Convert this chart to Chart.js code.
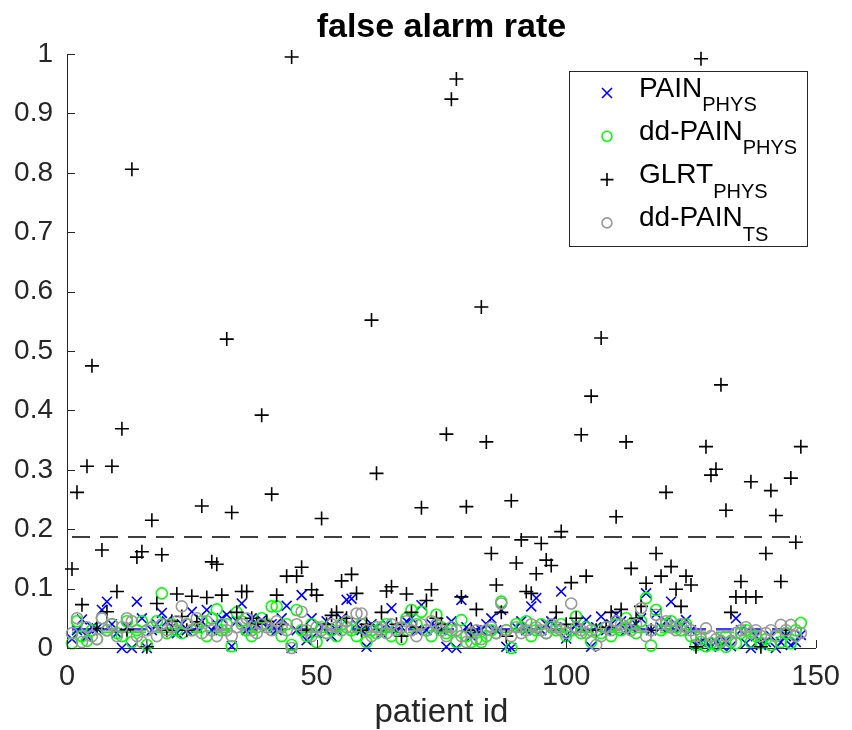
<!DOCTYPE html>
<html>
<head>
<meta charset="utf-8">
<title>false alarm rate</title>
<script src="https://cdn.jsdelivr.net/npm/chart.js@4"></script>
<style>
  html, body { margin: 0; padding: 0; background: #fff; }
</style>
</head>
<body>
<canvas id="chart" width="852" height="730"></canvas>
<script>
// 每位病人的假警報率 (patient id 1..147)
const painPhys = [
  0.015, 0.030, 0.048, 0.020, 0.035, 0.033, 0.064, 0.078, 0.040, 0.025,
  0.000, 0.035, 0.000, 0.078, 0.050, 0.000, 0.030, 0.040, 0.059, 0.045,
  0.035, 0.025, 0.040, 0.030, 0.061, 0.035, 0.045, 0.064, 0.030, 0.040,
  0.050, 0.056, 0.003, 0.045, 0.075, 0.030, 0.050, 0.040, 0.047, 0.035,
  0.040, 0.030, 0.050, 0.071, 0.000, 0.030, 0.089, 0.013, 0.050, 0.025,
  0.035, 0.045, 0.020, 0.030, 0.050, 0.081, 0.083, 0.040, 0.030, 0.002,
  0.040, 0.035, 0.025, 0.040, 0.067, 0.030, 0.035, 0.045, 0.050, 0.030,
  0.072, 0.030, 0.040, 0.035, 0.030, 0.002, 0.045, 0.000, 0.081, 0.035,
  0.020, 0.030, 0.030, 0.040, 0.050, 0.030, 0.064, 0.002, 0.000, 0.035,
  0.045, 0.030, 0.070, 0.084, 0.030, 0.040, 0.045, 0.035, 0.095, 0.016,
  0.030, 0.040, 0.035, 0.047, 0.002, 0.035, 0.053, 0.030, 0.040, 0.056,
  0.045, 0.030, 0.035, 0.040, 0.050, 0.092, 0.030, 0.058, 0.035, 0.045,
  0.078, 0.040, 0.035, 0.047, 0.030, 0.005, 0.010, 0.008, 0.002, 0.010,
  0.005, 0.012, 0.003, 0.050, 0.030, 0.008, 0.000, 0.020, 0.005, 0.010,
  0.020, 0.000, 0.010, 0.020, 0.005, 0.010, 0.022
];

const ddPainPhys = [
  0.008, 0.045, 0.020, 0.012, 0.030, 0.015, 0.050, 0.030, 0.040, 0.025,
  0.020, 0.045, 0.010, 0.030, 0.045, 0.005, 0.035, 0.045, 0.092, 0.025,
  0.040, 0.030, 0.025, 0.040, 0.030, 0.035, 0.045, 0.020, 0.050, 0.065,
  0.030, 0.040, 0.003, 0.060, 0.045, 0.030, 0.020, 0.035, 0.050, 0.040,
  0.070, 0.070, 0.020, 0.040, 0.005, 0.064, 0.030, 0.020, 0.040, 0.010,
  0.035, 0.025, 0.030, 0.020, 0.040, 0.035, 0.030, 0.020, 0.040, 0.010,
  0.030, 0.025, 0.035, 0.040, 0.020, 0.030, 0.015, 0.050, 0.064, 0.040,
  0.061, 0.030, 0.020, 0.056, 0.035, 0.025, 0.030, 0.010, 0.047, 0.020,
  0.010, 0.015, 0.010, 0.020, 0.030, 0.025, 0.078, 0.030, 0.000, 0.040,
  0.035, 0.045, 0.020, 0.030, 0.040, 0.025, 0.035, 0.030, 0.040, 0.020,
  0.030, 0.053, 0.025, 0.035, 0.010, 0.030, 0.025, 0.035, 0.020, 0.040,
  0.030, 0.050, 0.040, 0.025, 0.045, 0.084, 0.004, 0.064, 0.030, 0.040,
  0.045, 0.035, 0.030, 0.040, 0.020, 0.005, 0.010, 0.003, 0.008, 0.005,
  0.012, 0.002, 0.010, 0.008, 0.025, 0.030, 0.010, 0.020, 0.008, 0.015,
  0.005, 0.020, 0.010, 0.025, 0.008, 0.030, 0.042
];

const glrtPhys = [
  0.133, 0.262, 0.073, 0.306, 0.475, 0.033, 0.165, 0.061, 0.306, 0.095,
  0.369, 0.031, 0.806, 0.153, 0.162, 0.002, 0.215, 0.075, 0.157, 0.030,
  0.045, 0.091, 0.053, 0.030, 0.087, 0.044, 0.239, 0.085, 0.145, 0.141,
  0.089, 0.520, 0.228, 0.060, 0.095, 0.095, 0.050, 0.040, 0.392, 0.045,
  0.259, 0.089, 0.040, 0.121, 0.995, 0.121, 0.136, 0.030, 0.098, 0.089,
  0.218, 0.040, 0.055, 0.060, 0.113, 0.050, 0.124, 0.092, 0.030, 0.040,
  0.552, 0.294, 0.060, 0.096, 0.103, 0.040, 0.020, 0.091, 0.060, 0.035,
  0.236, 0.080, 0.098, 0.050, 0.040, 0.360, 0.924, 0.958, 0.086, 0.238,
  0.030, 0.065, 0.574, 0.347, 0.159, 0.106, 0.060, 0.020, 0.248, 0.143,
  0.182, 0.095, 0.092, 0.125, 0.176, 0.148, 0.139, 0.060, 0.196, 0.040,
  0.110, 0.050, 0.359, 0.121, 0.424, 0.030, 0.522, 0.035, 0.060, 0.221,
  0.065, 0.347, 0.134, 0.050, 0.070, 0.109, 0.030, 0.159, 0.121, 0.262,
  0.137, 0.099, 0.070, 0.121, 0.106, 0.002, 0.992, 0.339, 0.291, 0.301,
  0.443, 0.232, 0.060, 0.086, 0.112, 0.086, 0.280, 0.086, 0.002, 0.159,
  0.265, 0.223, 0.112, 0.030, 0.286, 0.178, 0.339
];

const ddPainTs = [
  0.025, 0.050, 0.010, 0.035, 0.020, 0.015, 0.050, 0.030, 0.040, 0.020,
  0.035, 0.050, 0.045, 0.020, 0.010, 0.030, 0.035, 0.020, 0.040, 0.030,
  0.035, 0.045, 0.070, 0.040, 0.030, 0.050, 0.025, 0.045, 0.030, 0.020,
  0.040, 0.030, 0.020, 0.035, 0.040, 0.050, 0.030, 0.025, 0.040, 0.035,
  0.030, 0.045, 0.035, 0.030, 0.000, 0.040, 0.061, 0.030, 0.020, 0.035,
  0.030, 0.025, 0.040, 0.035, 0.030, 0.045, 0.035, 0.058, 0.058, 0.030,
  0.020, 0.035, 0.030, 0.025, 0.040, 0.030, 0.035, 0.045, 0.030, 0.020,
  0.040, 0.030, 0.045, 0.040, 0.030, 0.020, 0.035, 0.030, 0.020, 0.010,
  0.025, 0.030, 0.015, 0.030, 0.035, 0.025, 0.075, 0.030, 0.020, 0.035,
  0.025, 0.030, 0.040, 0.035, 0.030, 0.025, 0.040, 0.035, 0.030, 0.025,
  0.075, 0.035, 0.030, 0.025, 0.030, 0.005, 0.020, 0.035, 0.030, 0.045,
  0.040, 0.035, 0.030, 0.040, 0.067, 0.020, 0.030, 0.056, 0.040, 0.045,
  0.035, 0.030, 0.040, 0.035, 0.030, 0.020, 0.015, 0.033, 0.020, 0.015,
  0.010, 0.020, 0.012, 0.025, 0.030, 0.035, 0.025, 0.030, 0.020, 0.025,
  0.030, 0.020, 0.039, 0.030, 0.039, 0.020, 0.025
];

// 各方法的平均值 (虛線)
const meanPain = 0.032;
const meanDdPain = 0.026;
const meanGlrt = 0.187;
const meanTs = 0.029;

const xTicks = [0, 50, 100, 150];
const yTicks = [0, 0.1, 0.2, 0.3, 0.4, 0.5, 0.6, 0.7, 0.8, 0.9, 1];

const FONT = "'Liberation Sans', Arial, Helvetica, sans-serif";
const AXIS_COLOR = '#262626';
const GREEN = '#00ff00';

const patientIds = painPhys.map((_, i) => i + 1);
const firstId = patientIds[0];
const lastId = patientIds[patientIds.length - 1];

function toPoints(values) {
    return values.map((v, i) => ({ x: patientIds[i], y: v }));
}

function scatterSet(label, values, style, color, radius, order) {
    return {
        label: label,
        type: 'scatter',
        data: toPoints(values),
        pointStyle: style,
        pointRadius: radius,
        pointBorderColor: color,
        pointBackgroundColor: 'rgba(0,0,0,0)',
        pointBorderWidth: 1.6,
        showLine: false,
        clip: false,
        order: order
    };
}

function meanLine(value, color, order) {
    return {
        type: 'line',
        data: [{ x: firstId, y: value }, { x: lastId, y: value }],
        borderColor: color,
        borderWidth: 1.5,
        borderDash: [18, 10],
        pointRadius: 0,
        fill: false,
        order: order
    };
}

// 圖例 (含下標)
const legendItems = [
    { name: 'PAIN', sub: 'PHYS', style: 'crossRot', color: '#0000ff' },
    { name: 'dd-PAIN', sub: 'PHYS', style: 'circle', color: GREEN },
    { name: 'GLRT', sub: 'PHYS', style: 'cross', color: '#000000' },
    { name: 'dd-PAIN', sub: 'TS', style: 'circle', color: '#999999' }
];

function drawMarker(ctx, style, color, x, y, r) {
    ctx.save();
    ctx.strokeStyle = color;
    ctx.lineWidth = 1.6;
    ctx.beginPath();
    if (style === 'circle') {
        ctx.arc(x, y, r, 0, Math.PI * 2);
    } else if (style === 'cross') {
        ctx.moveTo(x - r, y); ctx.lineTo(x + r, y);
        ctx.moveTo(x, y - r); ctx.lineTo(x, y + r);
    } else {
        ctx.moveTo(x - r, y - r); ctx.lineTo(x + r, y + r);
        ctx.moveTo(x - r, y + r); ctx.lineTo(x + r, y - r);
    }
    ctx.stroke();
    ctx.restore();
}

const decorPlugin = {
    id: 'decor',
    afterDraw(chart) {
        const ctx = chart.ctx;
        const area = chart.chartArea;
        const xs = chart.scales.x;
        const ys = chart.scales.y;

        // 向內的刻度線
        ctx.save();
        ctx.strokeStyle = AXIS_COLOR;
        ctx.lineWidth = 1;
        ctx.beginPath();
        yTicks.forEach(t => {
            const py = Math.round(ys.getPixelForValue(t)) + 0.5;
            ctx.moveTo(area.left, py);
            ctx.lineTo(area.left + 8, py);
        });
        xTicks.forEach(t => {
            const px = Math.round(xs.getPixelForValue(t)) + 0.5;
            ctx.moveTo(px, area.bottom);
            ctx.lineTo(px, area.bottom - 8);
        });
        ctx.stroke();

        // 標題
        ctx.fillStyle = '#000';
        ctx.font = 'bold 34px ' + FONT;
        ctx.textAlign = 'center';
        ctx.textBaseline = 'alphabetic';
        ctx.fillText('false alarm rate', (area.left + area.right) / 2, 37);

        // 圖例
        const box = { x: 569, y: 71, w: 238, h: 175 };
        ctx.fillStyle = '#fff';
        ctx.fillRect(box.x, box.y, box.w, box.h);
        ctx.strokeStyle = AXIS_COLOR;
        ctx.strokeRect(box.x + 0.5, box.y + 0.5, box.w, box.h);
        ctx.textAlign = 'left';
        legendItems.forEach((item, i) => {
            const rowY = 93 + i * 43.3;
            drawMarker(ctx, item.style, item.color, 607, rowY, item.style === 'cross' ? 6.5 : 5);
            ctx.fillStyle = '#000';
            ctx.font = '28px ' + FONT;
            ctx.fillText(item.name, 639, rowY + 3.5);
            const w = ctx.measureText(item.name).width;
            ctx.font = '20px ' + FONT;
            ctx.fillText(item.sub, 639 + w, rowY + 18);
        });
        ctx.restore();
    }
};

new Chart(document.getElementById('chart'), {
    type: 'scatter',
    data: {
        datasets: [
            meanLine(meanPain, '#0000ff', 8),
            meanLine(meanDdPain, GREEN, 7),
            meanLine(meanGlrt, '#000000', 6),
            meanLine(meanTs, '#999999', 5),
            scatterSet('PAIN_PHYS', painPhys, 'crossRot', '#0000ff', 7, 4),
            scatterSet('dd-PAIN_PHYS', ddPainPhys, 'circle', GREEN, 5.5, 3),
            scatterSet('GLRT_PHYS', glrtPhys, 'cross', '#000000', 7, 2),
            scatterSet('dd-PAIN_TS', ddPainTs, 'circle', '#999999', 5.5, 1)
        ]
    },
    options: {
        responsive: false,
        animation: false,
        layout: { padding: { left: 0, right: 26, top: 54, bottom: 0 } },
        plugins: {
            legend: { display: false },
            tooltip: { enabled: false }
        },
        scales: {
            x: {
                type: 'linear',
                min: 0,
                max: 150,
                afterBuildTicks: s => { s.ticks = xTicks.map(v => ({ value: v })); },
                afterFit: s => { s.height = 82; },
                grid: { display: false, drawTicks: false },
                border: { display: true, color: AXIS_COLOR, width: 1 },
                ticks: {
                    padding: 12,
                    color: AXIS_COLOR,
                    font: { family: FONT, size: 29 },
                    maxRotation: 0,
                    callback: v => String(v)
                },
                title: {
                    display: true,
                    text: 'patient id',
                    color: AXIS_COLOR,
                    font: { family: FONT, size: 33, lineHeight: 1.05 },
                    padding: { top: 0, bottom: 0 }
                }
            },
            y: {
                min: 0,
                max: 1,
                afterBuildTicks: s => { s.ticks = yTicks.map(v => ({ value: v })); },
                afterFit: s => { s.width = 67; },
                grid: { display: false, drawTicks: false },
                border: { display: true, color: AXIS_COLOR, width: 1 },
                ticks: {
                    padding: 14,
                    color: AXIS_COLOR,
                    font: { family: FONT, size: 28 },
                    callback: v => String(+v.toFixed(1))
                }
            }
        }
    },
    plugins: [decorPlugin]
});
</script>
</body>
</html>
